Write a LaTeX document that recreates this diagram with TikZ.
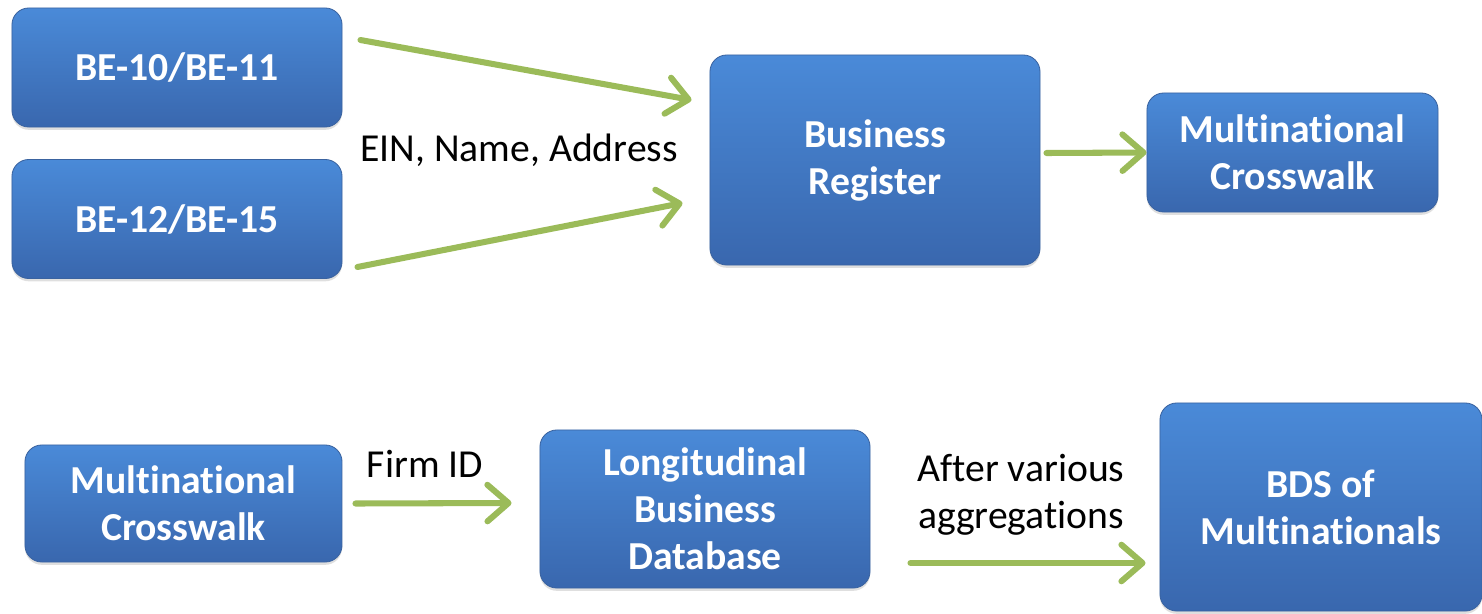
\documentclass[tikz,border=0pt]{standalone}
\usepackage{fontspec}
\setmainfont{Carlito}[Ligatures=NoCommon]
\usetikzlibrary{arrows.meta,positioning,calc,shadows}
\definecolor{boxtop}{HTML}{4A8AD8}
\definecolor{boxbot}{HTML}{3967AE}
\definecolor{boxedge}{HTML}{3A63A0}
\definecolor{arrgreen}{HTML}{9BBB59}

\begin{document}
\begin{tikzpicture}[x=0.025cm,y=-0.025cm,
  blockbox/.style={rectangle,rounded corners=0.42cm,top color=boxtop,
                   bottom color=boxbot,draw=boxedge,line width=0.6pt,
                   text=white,font=\fontsize{28.2}{33.5}\selectfont\bfseries,
                   align=center,minimum width=8.25cm,minimum height=2.975cm,
                   drop shadow={opacity=0.25,shadow xshift=0pt,shadow yshift=-2pt}},
  arr/.style={-{Straight Barb[length=15pt,width=26pt,round]},line width=4.3pt,
              line cap=round,arrgreen},
  lbl/.style={font=\fontsize{28.2}{33.5}\selectfont,text=black,align=center}
]
  \useasboundingbox (0,0) rectangle (1482,613);

  % ---- Top row -------------------------------------------------
  \node[blockbox] (be10) at (177,67.5) {BE-10/BE-11};
  \node[blockbox] (be12) at (177,219) {BE-12/BE-15};
  \node[blockbox,minimum height=5.25cm] (bizreg) at (875,160)
    {Business\\Register};
  \node[blockbox,minimum width=7.275cm] (crossA) at (1292.5,152.5)
    {Multinat\kern0pt ional\\Crosswalk};

  \node[lbl] (keys) at (519,150) {EIN, Name, Address};

  % Arrows into the register
  \draw[arr] ($(be10.east)+(18,-27.5)$) -- ($(bizreg.west)+(-18,-60)$);
  \draw[arr] ($(be12.east)+(15,48)$) -- ($(bizreg.west)+(-27,43)$);
  \draw[arr] ($(bizreg.east)+(6,-7)$) -- (crossA.west);

  % ---- Bottom row ----------------------------------------------
  \node[blockbox,minimum width=7.925cm,minimum height=2.925cm] (crossB) at (183.5,503.5)
    {Multinat\kern0pt ional\\Crosswalk};
  \node[blockbox,minimum height=3.95cm] (lbd) at (705,509)
    {Longitudinal\\Business\\Database};
  \node[blockbox,minimum width=8.05cm,minimum height=5.2cm] (bds) at (1321,507)
    {BDS of\\Multinat\kern0pt ionals};

  \node[lbl] (firmid) at (425,464) {Firm ID};
  \node[lbl] (aggr) at (1021,495) {After various\\aggregations};

  % Arrows along the bottom
  \draw[arr] ($(crossB.east)+(13,0)$) -- ($(lbd.west)+(-28,-6)$);
  \draw[arr] ($(lbd.east)+(40,54)$) -- ($(bds.west)+(-14,56)$);

\end{tikzpicture}
\end{document}
